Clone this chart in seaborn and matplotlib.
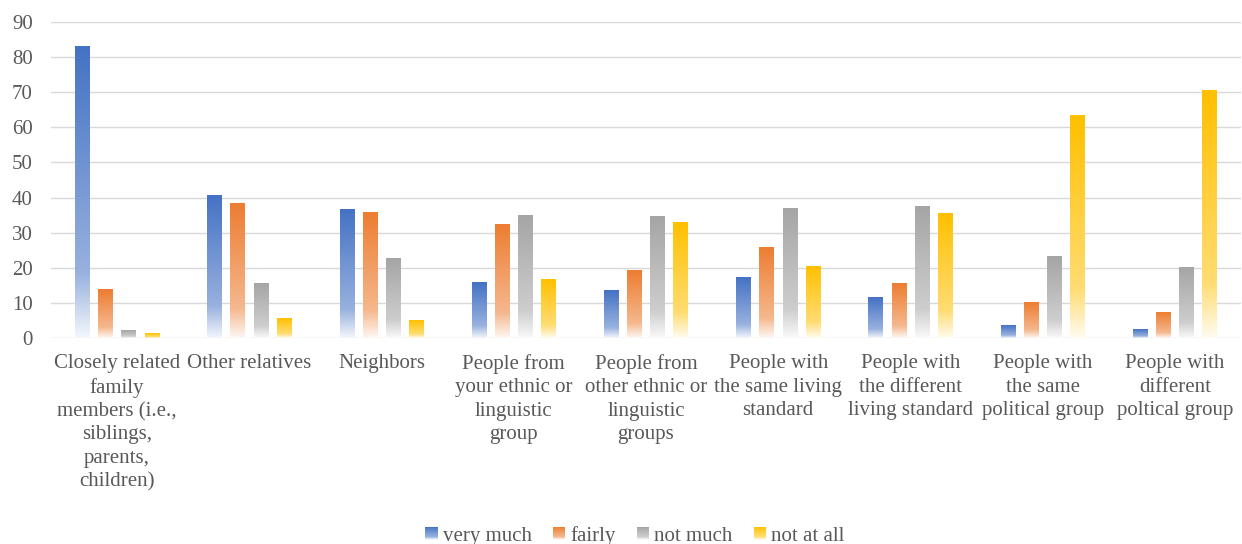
import numpy as np
import pandas as pd
import matplotlib
matplotlib.use('Agg')
import matplotlib.pyplot as plt
import seaborn as sns
from matplotlib.colors import to_rgb
from matplotlib.patches import Patch, Rectangle
from matplotlib.legend_handler import HandlerBase

# Data
categories = ['Closely related\nfamily\nmembers (i.e.,\nsiblings,\nparents,\nchildren)',
              'Other relatives',
              'Neighbors',
              'People from\nyour ethnic or\nlinguistic\ngroup',
              'People from\nother ethnic or\nlinguistic\ngroups',
              'People with\nthe same living\nstandard',
              'People with\nthe different\nliving standard',
              'People with\nthe same\npolitical group',
              'People with\ndifferent\npoltical group']
levels = ['very much', 'fairly', 'not much', 'not at all']
very_much = [83.2, 40.7, 36.7, 15.9, 13.6, 17.3, 11.6, 3.6, 2.5]
fairly = [13.9, 38.4, 35.9, 32.4, 19.3, 25.9, 15.6, 10.2, 7.3]
not_much = [2.2, 15.6, 22.7, 35.0, 34.7, 37.0, 37.6, 23.3, 20.2]
not_at_all = [1.3, 5.6, 5.1, 16.8, 33.0, 20.5, 35.6, 63.5, 70.7]
colors = ['#4472C4', '#ED7D31', '#A5A5A5', '#FFC000']

df = pd.DataFrame({'category': categories * 4,
                   'level': np.repeat(levels, len(categories)),
                   'value': very_much + fairly + not_much + not_at_all})

sns.set_style('white')
plt.rcParams['font.family'] = ['Liberation Serif', 'DejaVu Serif']
text_color = '#595959'


def fade(color, n=256):
    # full colour at the top, washing out to white at the bottom
    rgb = np.array(to_rgb(color))
    t = np.linspace(0, 1, n)
    w = np.interp(t, [0, 0.78, 1], [0, 0.45, 0.94])
    return rgb * (1 - w[:, None]) + w[:, None]


class GradientHandler(HandlerBase):
    def create_artists(self, legend, orig_handle, xdescent, ydescent,
                       width, height, fontsize, trans):
        cols = fade(orig_handle.get_facecolor(), 14)
        n = len(cols)
        arts = []
        for i, c in enumerate(cols):
            arts.append(Rectangle((-xdescent, -ydescent + height * (1 - (i + 1) / n)),
                                  width, height / n + 0.3, facecolor=c,
                                  edgecolor='none', transform=trans))
        return arts


fig = plt.figure(figsize=(12.42, 5.44), dpi=100)
ax = fig.add_axes([51 / 1242, 1 - 337.7 / 544, 1190 / 1242, 315.4 / 544])

sns.barplot(data=df, x='category', y='value', hue='level', palette=colors,
            width=0.7, gap=0.37, legend=False, ax=ax, zorder=3)

# replace flat bars with gradient images
for container, col in zip(ax.containers, colors):
    grad = fade(col)[:, None, :]
    for bar in container:
        x0, y0 = bar.get_x(), bar.get_y()
        w, h = bar.get_width(), bar.get_height()
        if h <= 0:
            continue
        ax.imshow(grad, extent=[x0, x0 + w, y0, y0 + h], aspect='auto',
                  origin='upper', interpolation='bilinear', zorder=3)
        bar.set_visible(False)

ax.set_xlim(-0.5, len(categories) - 0.5)
ax.set_ylim(0, 90)
ax.set_yticks(range(0, 91, 10))
ax.yaxis.grid(True, color='#D9D9D9', linewidth=1.0, zorder=0)
ax.set_axisbelow(True)
sns.despine(ax=ax, left=True, bottom=True)
ax.set_xlabel('')
ax.set_ylabel('')
ax.tick_params(axis='y', length=0, pad=13, labelsize=15, labelcolor=text_color)
ax.tick_params(axis='x', length=0, pad=12, labelsize=15, labelcolor=text_color)
for lab in ax.get_xticklabels():
    lab.set_linespacing(1.3)

handles = [Patch(facecolor=c, label=l) for c, l in zip(colors, levels)]
fig.legend(handles=handles, loc='center', bbox_to_anchor=(635 / 1242, 1 - 536 / 544),
           ncol=4, frameon=False, fontsize=15, labelcolor=text_color,
           handlelength=0.6, handleheight=0.6, handletextpad=0.25,
           columnspacing=1.0, handler_map={Patch: GradientHandler()})

fig.savefig('out.png', dpi=100)
